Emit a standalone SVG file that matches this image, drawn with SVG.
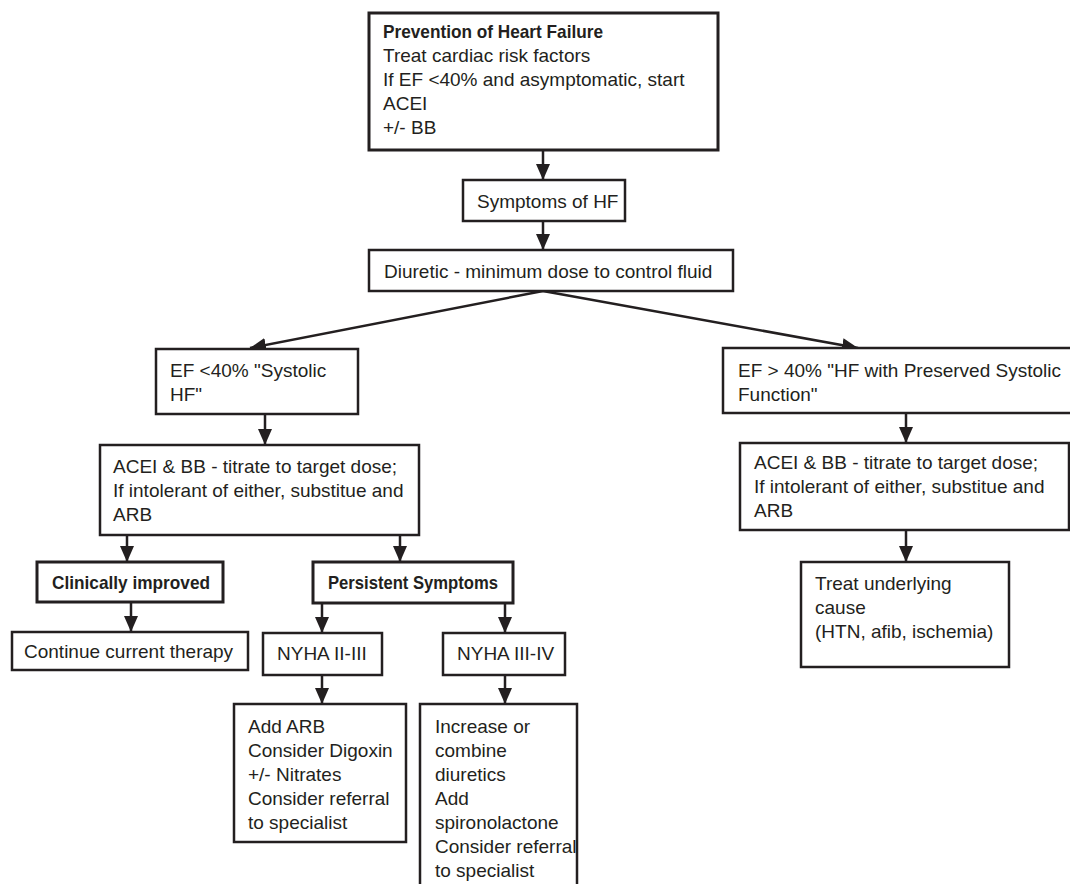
<svg xmlns="http://www.w3.org/2000/svg" width="1070" height="884" viewBox="0 0 1070 884">
<defs>
<style>
.box{fill:#fff;stroke:#231f20;stroke-width:2.5}
.bbox{fill:#fff;stroke:#231f20;stroke-width:3}
.t{font-family:"Liberation Sans",Arial,sans-serif;font-size:19px;fill:#231f20}
.b{font-family:"Liberation Sans",Arial,sans-serif;font-size:19px;font-weight:bold;fill:#231f20}
.c{fill:none;stroke:#231f20;stroke-width:2.5}
</style>
<marker id="ah" markerUnits="userSpaceOnUse" markerWidth="16" markerHeight="14" refX="16" refY="7" orient="auto">
<path d="M0,0 L16,7 L0,14 z" fill="#231f20"/>
</marker>
</defs>
<rect width="1070" height="884" fill="#fff"/>
<g id="connectors">
<line class="c" x1="543" y1="150" x2="543" y2="180" marker-end="url(#ah)"/>
<line class="c" x1="543" y1="221" x2="543" y2="250" marker-end="url(#ah)"/>
<line class="c" x1="543" y1="291" x2="250" y2="348" marker-end="url(#ah)"/>
<line class="c" x1="543" y1="291" x2="858" y2="348" marker-end="url(#ah)"/>
<line class="c" x1="265" y1="414" x2="265" y2="445" marker-end="url(#ah)"/>
<line class="c" x1="127" y1="535" x2="127" y2="562" marker-end="url(#ah)"/>
<line class="c" x1="400" y1="535" x2="400" y2="562" marker-end="url(#ah)"/>
<line class="c" x1="131" y1="602" x2="131" y2="632" marker-end="url(#ah)"/>
<line class="c" x1="322" y1="603" x2="322" y2="633" marker-end="url(#ah)"/>
<line class="c" x1="505" y1="603" x2="505" y2="633" marker-end="url(#ah)"/>
<line class="c" x1="322" y1="675" x2="322" y2="704" marker-end="url(#ah)"/>
<line class="c" x1="505" y1="675" x2="505" y2="704" marker-end="url(#ah)"/>
<line class="c" x1="906" y1="413" x2="906" y2="443" marker-end="url(#ah)"/>
<line class="c" x1="906" y1="530" x2="906" y2="562" marker-end="url(#ah)"/>
</g>
<g id="prevention">
<rect class="bbox" x="369" y="13" width="349" height="137"/>
<text class="b" x="383" y="38" textLength="220" lengthAdjust="spacingAndGlyphs">Prevention of Heart Failure</text>
<text class="t" x="383" y="62">Treat cardiac risk factors</text>
<text class="t" x="383" y="86">If EF &lt;40% and asymptomatic, start</text>
<text class="t" x="383" y="110">ACEI</text>
<text class="t" x="383" y="134">+/- BB</text>
</g>
<g id="symptoms">
<rect class="box" x="463" y="180" width="162" height="41"/>
<text class="t" x="477" y="208">Symptoms of HF</text>
</g>
<g id="diuretic">
<rect class="box" x="369" y="250" width="364" height="41"/>
<text class="t" x="384" y="278">Diuretic - minimum dose to control fluid</text>
</g>
<g id="ef-systolic">
<rect class="box" x="156" y="349" width="202" height="65"/>
<text class="t" x="170" y="377">EF &lt;40% "Systolic</text>
<text class="t" x="170" y="401">HF"</text>
</g>
<g id="acei-left">
<rect class="box" x="100" y="445" width="319" height="90"/>
<text class="t" x="113" y="473">ACEI &amp; BB - titrate to target dose;</text>
<text class="t" x="113" y="497">If intolerant of either, substitue and</text>
<text class="t" x="113" y="521">ARB</text>
</g>
<g id="clinically-improved">
<rect class="bbox" x="37" y="562" width="186" height="40"/>
<text class="b" x="131" y="589" text-anchor="middle" textLength="158" lengthAdjust="spacingAndGlyphs">Clinically improved</text>
</g>
<g id="continue">
<rect class="box" x="12" y="632" width="236" height="38"/>
<text class="t" x="24" y="658">Continue current therapy</text>
</g>
<g id="persistent">
<rect class="bbox" x="313" y="562" width="200" height="41"/>
<text class="b" x="413" y="589" text-anchor="middle" textLength="170" lengthAdjust="spacingAndGlyphs">Persistent Symptoms</text>
</g>
<g id="nyha-2-3">
<rect class="box" x="263" y="633" width="119" height="42"/>
<text class="t" x="277" y="660">NYHA II-III</text>
</g>
<g id="nyha-3-4">
<rect class="box" x="443" y="633" width="122" height="42"/>
<text class="t" x="457" y="660">NYHA III-IV</text>
</g>
<g id="add-arb">
<rect class="box" x="234" y="704" width="172" height="138"/>
<text class="t" x="248" y="733">Add ARB</text>
<text class="t" x="248" y="757">Consider Digoxin</text>
<text class="t" x="248" y="781">+/- Nitrates</text>
<text class="t" x="248" y="805">Consider referral</text>
<text class="t" x="248" y="829">to specialist</text>
</g>
<g id="increase">
<rect class="box" x="420" y="704" width="157" height="200"/>
<text class="t" x="435" y="733">Increase or</text>
<text class="t" x="435" y="757">combine</text>
<text class="t" x="435" y="781">diuretics</text>
<text class="t" x="435" y="805">Add</text>
<text class="t" x="435" y="829">spironolactone</text>
<text class="t" x="435" y="853">Consider referral</text>
<text class="t" x="435" y="877">to specialist</text>
</g>
<g id="ef-preserved">
<rect class="box" x="723" y="348" width="360" height="65"/>
<text class="t" x="738" y="377">EF &gt; 40% "HF with Preserved Systolic</text>
<text class="t" x="738" y="401">Function"</text>
</g>
<g id="acei-right">
<rect class="box" x="740" y="443" width="329" height="87"/>
<text class="t" x="754" y="469">ACEI &amp; BB - titrate to target dose;</text>
<text class="t" x="754" y="493">If intolerant of either, substitue and</text>
<text class="t" x="754" y="517">ARB</text>
</g>
<g id="treat-cause">
<rect class="box" x="801" y="562" width="208" height="105"/>
<text class="t" x="815" y="590">Treat underlying</text>
<text class="t" x="815" y="614">cause</text>
<text class="t" x="815" y="638">(HTN, afib, ischemia)</text>
</g>
</svg>
